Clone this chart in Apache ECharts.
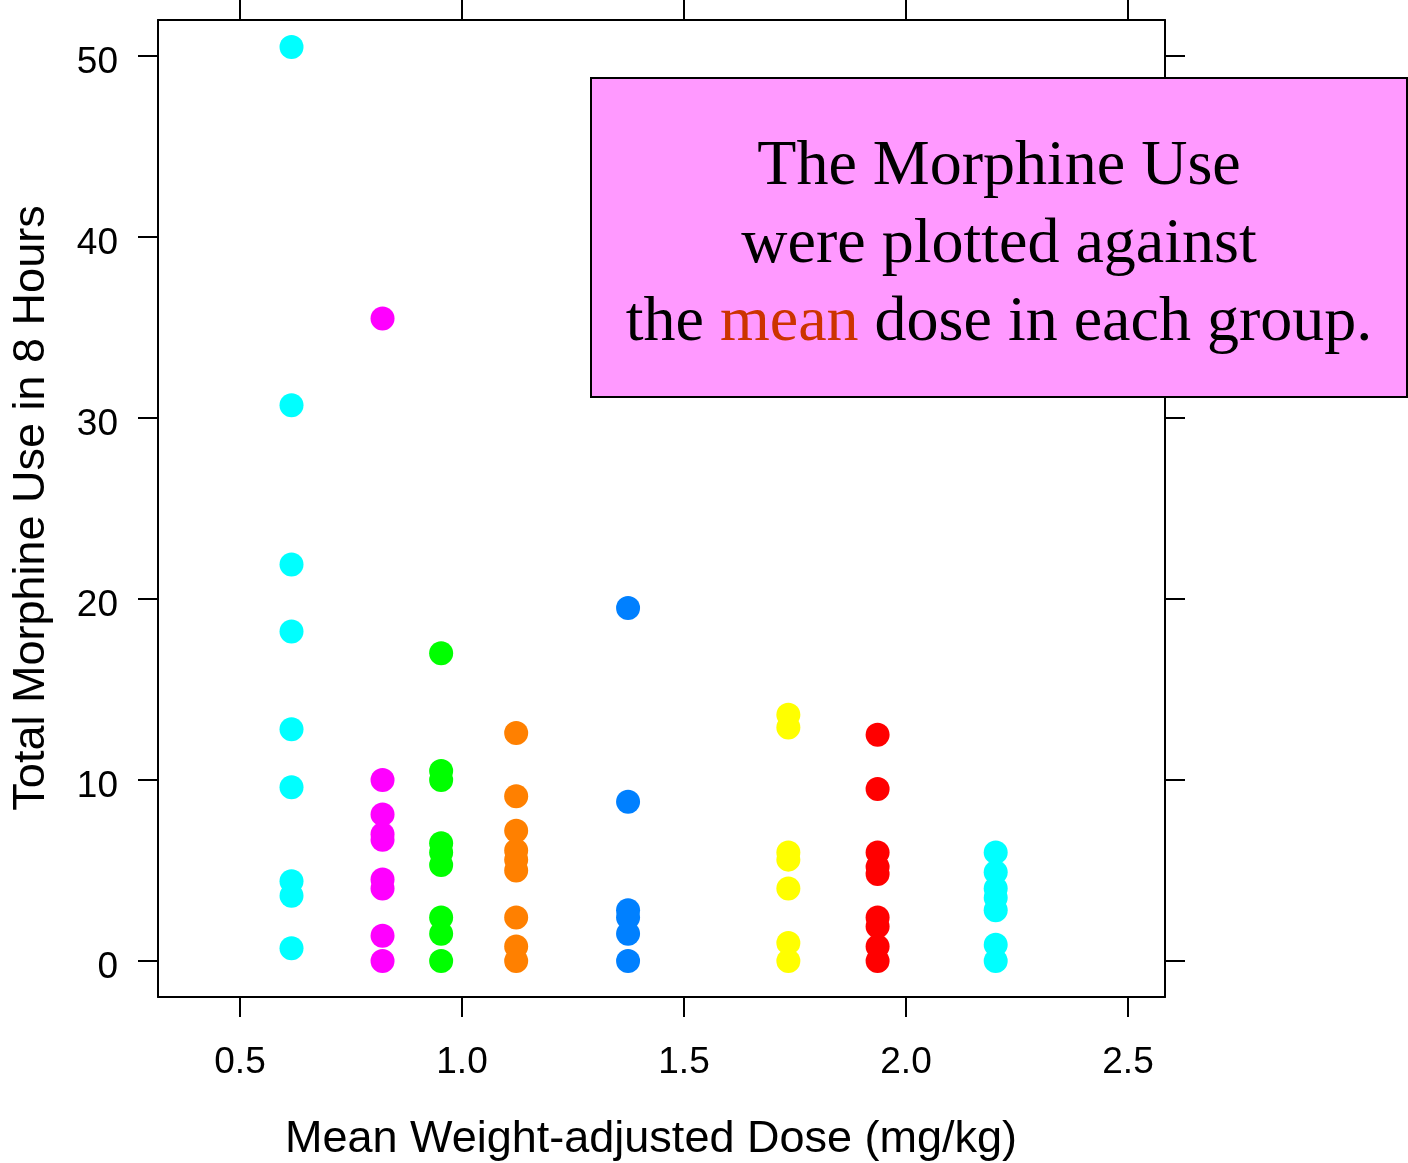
<!DOCTYPE html>
<html>
<head>
<meta charset="utf-8">
<title>Morphine use vs mean dose</title>
<script src="https://cdn.jsdelivr.net/npm/echarts@6/dist/echarts.min.js"></script>
<style>
  html, body { margin: 0; padding: 0; background: #ffffff; }
  #chart { width: 1408px; height: 1163px; }
</style>
</head>
<body>
<div id="chart"></div>
<script>
// Mean weight-adjusted dose (mg/kg) of each group
const doseGroups = [0.616, 0.821, 0.953, 1.122, 1.374, 1.735, 1.936, 2.202];
const groupColors = ['#00FFFF', '#FF00FF', '#00FF00', '#FF8000', '#0080FF', '#FFFF00', '#FF0000', '#00FFFF'];

// Total morphine use in 8 hours, one list per dose group
const useGroup1 = [50.5, 30.7, 21.9, 18.2, 12.8, 9.6, 4.4, 3.6, 0.7];
const useGroup2 = [35.5, 10.0, 8.1, 7.0, 6.7, 4.5, 4.0, 1.4, 0.0];
const useGroup3 = [17.0, 10.5, 10.0, 6.5, 6.0, 5.3, 2.4, 1.5, 0.0];
const useGroup4 = [12.6, 9.1, 7.2, 6.1, 5.6, 5.0, 2.4, 0.8, 0.0];
const useGroup5 = [19.5, 8.8, 2.8, 2.4, 1.5, 0.0];
const useGroup6 = [13.6, 12.9, 6.0, 5.6, 4.0, 1.0, 0.0];
const useGroup7 = [12.5, 9.5, 6.0, 5.2, 4.8, 2.4, 1.9, 0.8, 0.0];
const useGroup8 = [6.0, 4.9, 4.0, 3.5, 2.8, 0.9, 0.0];

// Axis ticks
const xTicks = [0.5, 1.0, 1.5, 2.0, 2.5];
const yTicks = [0, 10, 20, 30, 40, 50];

const useGroups = [useGroup1, useGroup2, useGroup3, useGroup4, useGroup5, useGroup6, useGroup7, useGroup8];

const sansFont = '"Liberation Sans", Arial, Helvetica, sans-serif';
const serifFont = '"Liberation Serif", "Times New Roman", Times, serif';

const xMin = 0.3153, xMax = 2.5833;
const yMin = -1.99, yMax = 51.99;

const series = useGroups.map((vals, i) => ({
  type: 'scatter',
  name: 'Group ' + (i + 1),
  xAxisIndex: 0,
  yAxisIndex: 0,
  symbol: 'circle',
  symbolSize: 24,
  itemStyle: { color: groupColors[i], opacity: 1 },
  data: vals.map(v => [doseGroups[i], v]),
  z: 3
}));

// Outward tick marks under the lower frame edge, placed through the x scale
series.push({
  type: 'custom',
  name: 'x ticks',
  xAxisIndex: 0,
  yAxisIndex: 0,
  clip: false,
  silent: true,
  data: xTicks.map(t => [t]),
  encode: { x: 0 },
  renderItem: function (params, api) {
    const p = api.coord([api.value(0), yMin]);
    return {
      type: 'line',
      shape: { x1: p[0], y1: p[1], x2: p[0], y2: p[1] + 20 },
      style: { stroke: '#000', lineWidth: 2 }
    };
  },
  z: 2
});

const frameLine = { show: true, onZero: false, lineStyle: { color: '#000', width: 2 } };
const tickStyle = { show: true, length: 20, inside: false, lineStyle: { color: '#000', width: 2 } };

function makeX(position, labels) {
  return {
    type: 'value',
    gridIndex: 0,
    position: position,
    offset: 0,
    min: xMin,
    max: xMax,
    axisLine: frameLine,
    splitLine: { show: false },
    axisTick: Object.assign({ customValues: xTicks }, tickStyle),
    axisLabel: {
      show: labels,
      customValues: xTicks,
      formatter: v => v.toFixed(1),
      fontSize: 37,
      fontFamily: sansFont,
      color: '#000',
      margin: 47
    }
  };
}

function makeY(position, labels) {
  return {
    type: 'value',
    gridIndex: 0,
    position: position,
    offset: 0,
    min: yMin,
    max: yMax,
    axisLine: frameLine,
    splitLine: { show: false },
    axisTick: Object.assign({ customValues: yTicks }, tickStyle),
    axisLabel: {
      show: labels,
      customValues: yTicks,
      formatter: v => '{t|' + v + '}',
      rich: {
        t: { fontSize: 37, fontFamily: sansFont, color: '#000', padding: [13, 0, 0, 0] }
      },
      fontSize: 37,
      fontFamily: sansFont,
      color: '#000',
      margin: 40
    }
  };
}

const chart = echarts.init(document.getElementById('chart'), null, { renderer: 'canvas' });

chart.setOption({
  animation: false,
  backgroundColor: '#ffffff',
  grid: {
    left: 158, top: 20, right: 243, bottom: 166,
    show: false
  },
  xAxis: [makeX('bottom', true), makeX('top', false)],
  yAxis: [makeY('left', true), makeY('right', false)],
  series: series,
  graphic: [
    {
      type: 'text',
      x: 651, y: 1140,
      style: {
        text: 'Mean Weight-adjusted Dose (mg/kg)',
        font: '45px ' + sansFont,
        fill: '#000',
        align: 'center',
        verticalAlign: 'middle'
      }
    },
    {
      type: 'text',
      x: 32, y: 508,
      rotation: Math.PI / 2,
      style: {
        text: 'Total Morphine Use in 8 Hours',
        font: '45px ' + sansFont,
        fill: '#000',
        align: 'center',
        verticalAlign: 'middle'
      }
    },
    {
      type: 'rect',
      shape: { x: 591, y: 78, width: 816, height: 319 },
      style: { fill: '#FF99FF', stroke: '#000', lineWidth: 2 },
      z: 100
    },
    {
      type: 'text',
      x: 999, y: 245,
      z: 101,
      style: {
        text: '{n|The Morphine Use}\n{n|were plotted against}\n{n|the }{m|mean}{n| dose in each group.}',
        align: 'center',
        verticalAlign: 'middle',
        font: '64px ' + serifFont,
        rich: {
          n: { fontSize: 64, fontFamily: serifFont, fill: '#000', lineHeight: 78 },
          m: { fontSize: 64, fontFamily: serifFont, fill: '#CC3300', lineHeight: 78 }
        }
      }
    }
  ]
});
</script>
</body>
</html>
